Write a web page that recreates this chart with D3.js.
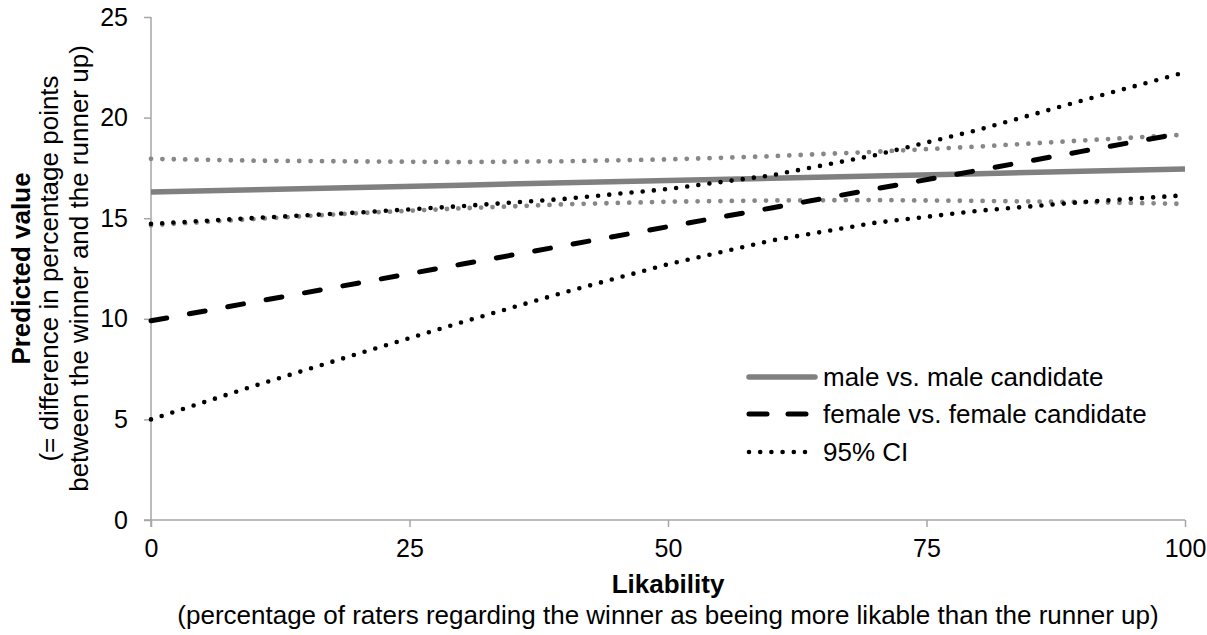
<!DOCTYPE html>
<html>
<head>
<meta charset="utf-8">
<script src="https://cdn.jsdelivr.net/npm/d3@7"></script>
<style>
  html, body { margin: 0; padding: 0; background: #fff; }
  svg { display: block; font-family: "Liberation Sans", Arial, sans-serif; }
</style>
</head>
<body>
<svg id="chart" width="1207" height="635"></svg>
<script>
// ---- data ----
const likability = [0, 10, 20, 30, 40, 50, 60, 70, 80, 90, 100];
const maleFit    = [16.30, 16.41, 16.53, 16.64, 16.76, 16.87, 16.98, 17.10, 17.21, 17.33, 17.44];
const maleUpper  = [17.95, 17.86, 17.82, 17.79, 17.83, 17.92, 18.08, 18.30, 18.56, 18.86, 19.15];
const maleLower  = [14.65, 14.96, 15.25, 15.49, 15.69, 15.82, 15.88, 15.90, 15.86, 15.80, 15.71];
const femaleFit   = [9.90, 10.84, 11.77, 12.71, 13.64, 14.58, 15.51, 16.45, 17.38, 18.32, 19.25];
const femaleUpper = [14.72, 15.01, 15.28, 15.60, 15.96, 16.45, 17.13, 18.13, 19.39, 20.84, 22.25];
const femaleLower = [5.00, 6.67, 8.26, 9.82, 11.32, 12.71, 13.89, 14.77, 15.37, 15.80, 16.14];
const xTicks = [0, 25, 50, 75, 100];
const yTicks = [0, 5, 10, 15, 20, 25];
const legendLabels = ["male vs. male candidate", "female vs. female candidate", "95% CI"];
const yTitle = ["Predicted value", "(= difference in percentage points", "between the winner and the runner up)"];
const xTitle = ["Likability", "(percentage of raters regarding the winner as beeing more likable than the runner up)"];

(function () {
// ---- layout ----
const svg = d3.select("#chart");
const mLeft = 151, mRight = 1185, mTop = 17, mBottom = 520;
const x = d3.scaleLinear().domain([0, 100]).range([mLeft, mRight]);
const y = d3.scaleLinear().domain([0, 25]).range([mBottom, mTop]);
const axisColor = "#a6a6a6";
const grey = "#808080";
const tickFont = 25, legendFont = 26, titleFont = 26;

// axes
const yAxis = svg.append("g").attr("transform", `translate(${mLeft},0)`)
  .call(d3.axisLeft(y).tickValues(yTicks).tickSize(7).tickPadding(16).tickFormat(d3.format("d")));
const xAxis = svg.append("g").attr("transform", `translate(0,${mBottom})`)
  .call(d3.axisBottom(x).tickValues(xTicks).tickSize(7).tickPadding(12).tickFormat(d3.format("d")));
[yAxis, xAxis].forEach(g => {
  g.select(".domain").remove();
  g.selectAll(".tick line").attr("stroke", axisColor).attr("stroke-width", 1.5);
  g.selectAll(".tick text").attr("fill", "#000").style("font-size", tickFont + "px")
    .style("font-family", "'Liberation Sans', Arial, sans-serif");
});
// axis lines
svg.append("line").attr("x1", mLeft).attr("x2", mLeft).attr("y1", y(25)).attr("y2", mBottom + 7)
  .attr("stroke", axisColor).attr("stroke-width", 1.5);
svg.append("line").attr("x1", mLeft - 7).attr("x2", x(100)).attr("y1", mBottom).attr("y2", mBottom)
  .attr("stroke", axisColor).attr("stroke-width", 1.5);

// lines
const line = arr => d3.line().x((d, i) => x(likability[i])).y(d => y(d))(arr);
const plot = svg.append("g");
plot.append("path").attr("d", line(maleFit)).attr("fill", "none")
  .attr("stroke", grey).attr("stroke-width", 5.5);
[maleUpper, maleLower].forEach(s => plot.append("path").attr("d", line(s)).attr("fill", "none")
  .attr("stroke", "#878787").attr("stroke-width", 4.8).attr("stroke-linecap", "round")
  .attr("stroke-dasharray", "0,11.4"));
plot.append("path").attr("d", line(femaleFit)).attr("fill", "none")
  .attr("stroke", "#000").attr("stroke-width", 5).attr("stroke-linecap", "round")
  .attr("stroke-dasharray", "16,23");
[femaleUpper, femaleLower].forEach(s => plot.append("path").attr("d", line(s)).attr("fill", "none")
  .attr("stroke", "#000").attr("stroke-width", 4.6).attr("stroke-linecap", "round")
  .attr("stroke-dasharray", "0,11.2"));

// legend
const lg = svg.append("g");
const lx0 = 747, lx1 = 817, ly = [377, 414, 452];
lg.append("line").attr("x1", lx0 + 2).attr("x2", lx1 - 2).attr("y1", ly[0]).attr("y2", ly[0])
  .attr("stroke", grey).attr("stroke-width", 5.5).attr("stroke-linecap", "round");
lg.append("line").attr("x1", lx0 + 2).attr("x2", 808).attr("y1", ly[1]).attr("y2", ly[1])
  .attr("stroke", "#000").attr("stroke-width", 5).attr("stroke-linecap", "round")
  .attr("stroke-dasharray", "18,21");
lg.append("line").attr("x1", lx0 + 2).attr("x2", 809).attr("y1", ly[2]).attr("y2", ly[2])
  .attr("stroke", "#000").attr("stroke-width", 4.6).attr("stroke-linecap", "round")
  .attr("stroke-dasharray", "0,11.2");
legendLabels.forEach((t, i) => lg.append("text").attr("x", 823).attr("y", ly[i])
  .attr("dy", "0.35em").style("font-size", legendFont + "px").text(t));

// y title
const cy = (mTop + mBottom) / 2;
const yt = [21, 49, 79];
yTitle.forEach((t, i) => svg.append("text")
  .attr("transform", `translate(${yt[i]},${cy}) rotate(-90)`)
  .attr("text-anchor", "middle").attr("dy", "0.35em")
  .style("font-size", titleFont + "px").style("font-weight", i === 0 ? "bold" : "normal").text(t));

// x title
const cx = (mLeft + mRight) / 2;
svg.append("text").attr("x", cx).attr("y", 584).attr("dy", "0.35em").attr("text-anchor", "middle")
  .style("font-size", titleFont + "px").style("font-weight", "bold").text(xTitle[0]);
svg.append("text").attr("x", cx).attr("y", 615).attr("dy", "0.35em").attr("text-anchor", "middle")
  .style("font-size", titleFont + "px").text(xTitle[1]);
})();
</script>
</body>
</html>
